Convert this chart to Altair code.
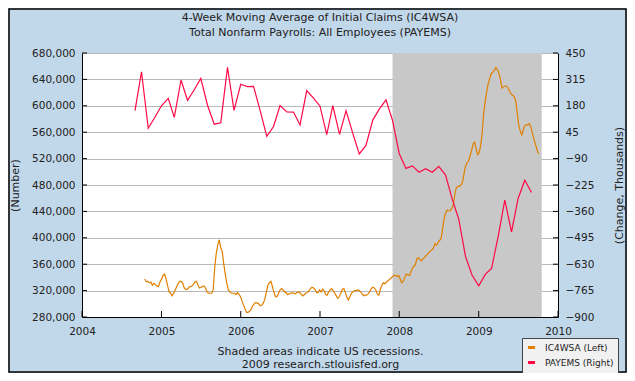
import altair as alt
import pandas as pd

# ---------------- data ----------------
ic4wsa_first_week = "2004-10-16"
# 4-week moving average of initial claims, thousands, weekly
ic4wsa_k = [
    337.6, 333.5, 334, 332, 333, 328, 331, 329, 327, 326,
    333, 337, 343, 345, 338, 328, 318, 316, 312, 316,
    321, 326, 331, 334, 334, 331, 324, 322, 322, 325,
    326, 327, 329, 333, 334, 328, 324, 325, 326, 327,
    324, 318, 316, 316, 316, 321, 354, 376, 389, 397,
    385, 379, 360, 344, 331, 321, 318, 316, 316, 316,
    314, 317, 314, 311, 304, 298, 292, 287, 287, 289,
    292, 297, 300, 302, 301, 300, 297, 298, 301, 307,
    318, 328, 332, 334, 326, 317, 311, 311, 316, 321,
    323, 321, 318, 317, 314, 315, 316, 317, 316, 315,
    317, 318, 317, 314, 312, 314, 316, 317, 320, 323,
    325, 324, 322, 317, 317, 321, 318, 322, 320, 314,
    313, 318, 321, 323, 320, 316, 312, 308, 311, 316,
    322, 323, 317, 310, 306, 311, 316, 318, 320, 320,
    321, 320, 318, 315, 312, 313, 313, 315, 318, 323,
    325, 324, 321, 315, 313, 322, 328, 332, 330, 333,
    335, 337, 339, 341, 343, 343, 341, 343, 338, 332,
    334, 339, 345, 344, 343, 347, 354, 357, 359, 368,
    370, 367, 365, 368, 370, 373, 375, 378, 380, 382,
    385, 391, 389, 393, 396, 399, 415, 430, 438, 442,
    441, 441, 445, 450, 466, 476, 478, 478, 480, 484,
    497, 508, 514, 516, 524, 532, 542, 545, 535, 526,
    529, 540, 560, 590, 607, 622, 634, 642, 649, 651,
    654, 658, 655, 649, 640, 627, 629, 630, 630, 627,
    622, 618, 616, 614, 608, 590, 571, 562, 556, 563,
    570, 571, 571, 573, 568, 559, 550, 542, 534, 527,
]

payems_first_month = "2004-09-01"
# total nonfarm payrolls, monthly change, thousands
payems = [
    155, 354, 65, 120,
    180, 218, 121, 312, 208, 262, 320, 183, 86, 93, 377, 157,
    290, 278, 279, 153, 24, 74, 181, 149, 148, 82, 258, 220,
    178, 33, 181, 34, 155, 39, -66, -21, 107, 163, 210, 105,
    -65, -140, -127, -160, -142, -160, -130, -174, -297, -400, -590, -685,
    -741, -681, -652, -485, -302, -465, -295, -201, -263,
]

recession_start = ["2007-12-01"]
recession_end = ["2009-10-18"]

years = [2004, 2005, 2006, 2007, 2008, 2009, 2010]
left_ticks = [280, 320, 360, 400, 440, 480, 520, 560, 600, 640, 680]
right_ticks = [-900, -765, -630, -495, -360, -225, -90, 45, 180, 315, 450]

series_names = ["IC4WSA (Left)", "PAYEMS (Right)"]
series_colors = ["#E08000", "#FF0845"]

title_lines = ["4-Week Moving Average of Initial Claims (IC4WSA)",
               "Total Nonfarm Payrolls: All Employees (PAYEMS)"]
footer_lines = ["Shaded areas indicate US recessions.",
                "2009 research.stlouisfed.org"]
left_title = "(Number)"
right_title = "(Change, Thousands)"

# ---------------- tables ----------------
ic_df = pd.DataFrame({
    "date": pd.date_range(ic4wsa_first_week, periods=len(ic4wsa_k), freq="7D").strftime("%Y-%m-%d"),
    "v": ic4wsa_k,
    "series": series_names[0],
})
pay_df = pd.DataFrame({
    "date": pd.date_range(payems_first_month, periods=len(payems), freq="MS").strftime("%Y-%m-%d"),
    "v": payems,
    "series": series_names[1],
})
rec_df = pd.DataFrame({"start": recession_start, "end": recession_end})
year_df = pd.DataFrame({"d": [f"{y}-01-01" for y in years]})
lt_df = pd.DataFrame({"t": left_ticks})
rt_df = pd.DataFrame({"t": right_ticks})
title_df = pd.DataFrame({"line": [0, 1], "text": title_lines})

# ---------------- styling ----------------
FONT = "DejaVu Sans"
BG = "#C1D7EA"
TXT = "#222222"
W, H = 476, 264
PAD = {"left": 74, "top": 45, "right": 69, "bottom": 56}
TOTAL_W = PAD["left"] + W + PAD["right"]
TOTAL_H = PAD["top"] + H + PAD["bottom"]

xscale = alt.Scale(type="utc", domain=[
    alt.DateTime(year=2004, month=1, date=1, utc=True),
    alt.DateTime(year=2010, month=1, date=1, utc=True)])
xaxis = alt.Axis(
    values=[alt.DateTime(year=y, month=1, date=1, utc=True) for y in years],
    format="%Y", ticks=False, grid=False, domainColor="black", domainWidth=1,
    labelFlush=False, labelOverlap=False, labelPadding=9, labelFont=FONT,
    labelFontSize=10.5, labelColor=TXT, title=footer_lines, titleFont=FONT,
    titleFontSize=11, titleFontWeight="normal", titleColor=TXT,
    titlePadding=9, titleLineHeight=13)

lscale = alt.Scale(domain=[280, 680], nice=False, zero=False)
laxis = alt.Axis(
    orient="left", values=left_ticks, labelExpr="format(datum.value * 1000, ',')",
    ticks=False, grid=True, gridColor="#B8B8B8", gridWidth=1,
    domainColor="black", domainWidth=1, labelPadding=7, labelFont=FONT,
    labelFontSize=10.5, labelColor=TXT, title=left_title, titleFont=FONT,
    titleFontSize=11, titleFontWeight="normal", titleColor=TXT, titlePadding=11)

rscale = alt.Scale(domain=[-900, 450], nice=False, zero=False)
raxis = alt.Axis(
    orient="right", values=right_ticks, ticks=False, grid=False,
    domainColor="black", domainWidth=1, labelPadding=7, labelFont=FONT,
    labelFontSize=10.5, labelColor=TXT, title=right_title, titleFont=FONT,
    titleFontSize=11, titleFontWeight="normal", titleColor=TXT,
    titlePadding=31, titleAngle=270)

cscale = alt.Scale(domain=series_names, range=series_colors)
legend = alt.Legend(
    orient="none", legendX=440, legendY=285, title=None, direction="vertical",
    symbolType="stroke", symbolStrokeWidth=3, symbolSize=50, labelFont=FONT,
    labelFontSize=9, labelColor=TXT, fillColor="#F1F1F1", strokeColor="#444444",
    padding=4, rowPadding=2, labelOffset=8)

x_enc = lambda f: alt.X(f, scale=xscale, axis=xaxis)

rec = alt.Chart(rec_df).mark_rect(color="#C8C8C8").encode(
    x=x_enc("start:T"), x2="end:T")

ic_line = alt.Chart(ic_df).mark_line(strokeWidth=1.2).encode(
    x=x_enc("date:T"),
    y=alt.Y("v:Q", scale=lscale, axis=laxis),
    color=alt.Color("series:N", scale=cscale, legend=legend))

lticks = alt.Chart(lt_df).mark_rule(color="black").encode(
    y=alt.Y("t:Q", scale=lscale, axis=laxis),
    x=alt.value(0), x2=alt.value(5))

xticks = alt.Chart(year_df).mark_rule(color="black").encode(
    x=x_enc("d:T"), y=alt.value(H - 6), y2=alt.value(H))

pay_line = alt.Chart(pay_df).mark_line(strokeWidth=1.2).encode(
    x=x_enc("date:T"),
    y=alt.Y("v:Q", scale=rscale, axis=raxis),
    color=alt.Color("series:N", scale=cscale, legend=legend))

rticks = alt.Chart(rt_df).mark_rule(color="black").encode(
    y=alt.Y("t:Q", scale=rscale, axis=raxis),
    x=alt.value(W - 5), x2=alt.value(W))

titles = alt.Chart(title_df).mark_text(
    font=FONT, fontSize=11, color=TXT, align="center", baseline="middle").encode(
    text="text:N",
    x=alt.value(W / 2),
    y=alt.Y("line:Q", scale=alt.Scale(domain=[0, 1], range=[-35.5, -20.5]), axis=None))

border = alt.Chart(pd.DataFrame({"a": [0]})).mark_rect(
    fillOpacity=0, stroke="black", strokeWidth=1.5).encode(
    x=alt.value(-PAD["left"] + 1), x2=alt.value(TOTAL_W - PAD["left"] - 1),
    y=alt.value(-PAD["top"] + 1), y2=alt.value(TOTAL_H - PAD["top"] - 1))

left = alt.layer(rec, ic_line, lticks, xticks)
right = alt.layer(pay_line, rticks)
top = alt.layer(titles, border)

chart = alt.layer(left, right, top).resolve_scale(y="independent").properties(
    width=W, height=H,
    padding=PAD,
    autosize=alt.AutoSizeParams(type="none"),
    background=BG,
).configure_view(fill="white", stroke=None)

chart.save("out.html", embed_options={"renderer": "svg", "actions": False})
